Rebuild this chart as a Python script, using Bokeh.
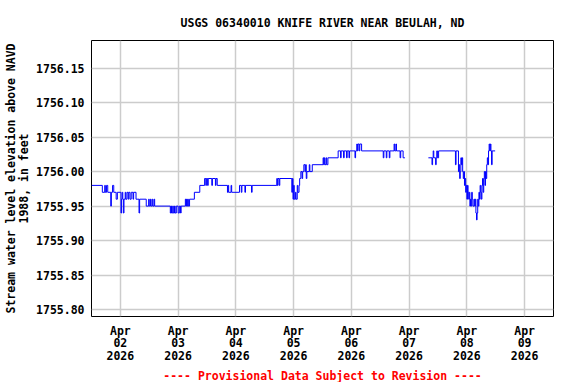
import datetime as dt
from bokeh.plotting import figure
from bokeh.models import (FixedTicker, DatetimeTickFormatter, NumeralTickFormatter,
                          Range1d, Title, ColumnDataSource)
from bokeh.embed import file_html
from bokeh.resources import INLINE

TITLE = "USGS 06340010 KNIFE RIVER NEAR BEULAH, ND"
Y_LABEL = "Stream water level elevation above NAVD\n1988, in feet"
FOOTER = "---- Provisional Data Subject to Revision ----"
Y_TICKS = [1755.80, 1755.85, 1755.90, 1755.95, 1756.00, 1756.05, 1756.10, 1756.15]
X_TICK_DAYS = ["2026-04-02", "2026-04-03", "2026-04-04", "2026-04-05",
               "2026-04-06", "2026-04-07", "2026-04-08", "2026-04-09"]
X_START = "2026-04-01 12:00"
X_END = "2026-04-09 12:00"
Y_MIN = 1755.79
Y_MAX = 1756.19

# Change points (time, gage height) -- value holds until the next time
SEGMENT_1 = [
    ("2026-04-01 12:00", 1755.98), ("2026-04-01 16:30", 1755.97), ("2026-04-01 17:30", 1755.98),
    ("2026-04-01 17:45", 1755.97), ("2026-04-01 18:15", 1755.98), ("2026-04-01 18:45", 1755.97),
    ("2026-04-01 20:00", 1755.95), ("2026-04-01 20:15", 1755.97), ("2026-04-01 20:45", 1755.98),
    ("2026-04-01 21:15", 1755.97), ("2026-04-01 22:15", 1755.96), ("2026-04-01 22:45", 1755.97),
    ("2026-04-02 00:15", 1755.94), ("2026-04-02 00:30", 1755.96), ("2026-04-02 00:45", 1755.97),
    ("2026-04-02 01:00", 1755.96), ("2026-04-02 01:15", 1755.94), ("2026-04-02 01:30", 1755.96),
    ("2026-04-02 02:00", 1755.97), ("2026-04-02 02:15", 1755.96), ("2026-04-02 02:45", 1755.97),
    ("2026-04-02 03:15", 1755.96), ("2026-04-02 03:30", 1755.97), ("2026-04-02 04:00", 1755.96),
    ("2026-04-02 04:30", 1755.97), ("2026-04-02 05:15", 1755.96), ("2026-04-02 05:30", 1755.97),
    ("2026-04-02 06:30", 1755.96), ("2026-04-02 07:45", 1755.94), ("2026-04-02 08:00", 1755.96),
    ("2026-04-02 10:45", 1755.95), ("2026-04-02 11:45", 1755.96), ("2026-04-02 12:00", 1755.95),
    ("2026-04-02 12:30", 1755.96), ("2026-04-02 12:45", 1755.95), ("2026-04-02 13:15", 1755.96),
    ("2026-04-02 13:30", 1755.95), ("2026-04-02 14:00", 1755.96), ("2026-04-02 14:15", 1755.95),
    ("2026-04-02 20:45", 1755.94), ("2026-04-02 21:00", 1755.95), ("2026-04-02 21:15", 1755.94),
    ("2026-04-02 21:45", 1755.95), ("2026-04-02 22:00", 1755.94), ("2026-04-02 22:30", 1755.95),
    ("2026-04-02 22:45", 1755.94), ("2026-04-02 23:15", 1755.95), ("2026-04-03 00:00", 1755.94),
    ("2026-04-03 00:30", 1755.95), ("2026-04-03 01:00", 1755.94), ("2026-04-03 01:15", 1755.95),
    ("2026-04-03 03:00", 1755.96), ("2026-04-03 03:15", 1755.95), ("2026-04-03 03:30", 1755.96),
    ("2026-04-03 03:45", 1755.95), ("2026-04-03 04:00", 1755.96), ("2026-04-03 04:15", 1755.95),
    ("2026-04-03 04:45", 1755.96), ("2026-04-03 06:45", 1755.97), ("2026-04-03 09:00", 1755.98),
    ("2026-04-03 11:00", 1755.99), ("2026-04-03 11:30", 1755.98), ("2026-04-03 11:45", 1755.99),
    ("2026-04-03 12:15", 1755.98), ("2026-04-03 12:30", 1755.99), ("2026-04-03 14:00", 1755.98),
    ("2026-04-03 14:15", 1755.99), ("2026-04-03 15:30", 1755.98), ("2026-04-03 15:45", 1755.99),
    ("2026-04-03 16:15", 1755.98), ("2026-04-03 20:30", 1755.97), ("2026-04-03 20:45", 1755.98),
    ("2026-04-03 21:00", 1755.97), ("2026-04-03 22:00", 1755.98), ("2026-04-03 22:15", 1755.97),
    ("2026-04-04 01:30", 1755.98), ("2026-04-04 02:15", 1755.97), ("2026-04-04 02:30", 1755.98),
    ("2026-04-04 03:45", 1755.97), ("2026-04-04 04:00", 1755.98), ("2026-04-04 06:30", 1755.97),
    ("2026-04-04 06:45", 1755.98), ("2026-04-04 17:00", 1755.99), ("2026-04-04 17:15", 1755.98),
    ("2026-04-04 17:30", 1755.99), ("2026-04-04 18:00", 1755.98), ("2026-04-04 18:15", 1755.99),
    ("2026-04-04 23:15", 1755.97), ("2026-04-04 23:30", 1755.99), ("2026-04-04 23:45", 1755.96),
    ("2026-04-05 00:00", 1755.98), ("2026-04-05 00:15", 1755.96), ("2026-04-05 00:45", 1755.97),
    ("2026-04-05 01:00", 1755.96), ("2026-04-05 01:30", 1755.98), ("2026-04-05 01:45", 1755.97),
    ("2026-04-05 02:15", 1755.98), ("2026-04-05 02:30", 1755.99), ("2026-04-05 03:00", 1756.00),
    ("2026-04-05 03:30", 1755.99), ("2026-04-05 03:45", 1756.00), ("2026-04-05 04:15", 1756.01),
    ("2026-04-05 04:45", 1756.00), ("2026-04-05 05:00", 1756.01), ("2026-04-05 05:15", 1755.99),
    ("2026-04-05 05:30", 1756.00), ("2026-04-05 06:30", 1756.01), ("2026-04-05 06:45", 1756.00),
    ("2026-04-05 07:45", 1756.01), ("2026-04-05 12:15", 1756.02), ("2026-04-05 12:30", 1756.01),
    ("2026-04-05 12:45", 1756.02), ("2026-04-05 13:00", 1756.01), ("2026-04-05 13:30", 1756.02),
    ("2026-04-05 13:45", 1756.01), ("2026-04-05 14:15", 1756.02), ("2026-04-05 18:30", 1756.03),
    ("2026-04-05 19:30", 1756.02), ("2026-04-05 19:45", 1756.03), ("2026-04-05 20:45", 1756.02),
    ("2026-04-05 21:00", 1756.03), ("2026-04-05 22:00", 1756.02), ("2026-04-05 22:15", 1756.03),
    ("2026-04-05 23:00", 1756.02), ("2026-04-05 23:15", 1756.03), ("2026-04-06 01:30", 1756.02),
    ("2026-04-06 01:45", 1756.03), ("2026-04-06 02:15", 1756.04), ("2026-04-06 02:30", 1756.03),
    ("2026-04-06 02:45", 1756.04), ("2026-04-06 03:15", 1756.03), ("2026-04-06 03:30", 1756.04),
    ("2026-04-06 04:15", 1756.03), ("2026-04-06 13:15", 1756.02), ("2026-04-06 13:30", 1756.03),
    ("2026-04-06 14:30", 1756.02), ("2026-04-06 14:45", 1756.03), ("2026-04-06 15:45", 1756.02),
    ("2026-04-06 16:00", 1756.03), ("2026-04-06 17:45", 1756.04), ("2026-04-06 18:00", 1756.03),
    ("2026-04-06 18:30", 1756.04), ("2026-04-06 18:45", 1756.03), ("2026-04-06 20:15", 1756.02),
    ("2026-04-06 20:30", 1756.03), ("2026-04-06 21:30", 1756.02), ("2026-04-06 22:15", 1756.02),
]

SEGMENT_2 = [
    ("2026-04-07 08:00", 1756.02), ("2026-04-07 09:30", 1756.01), ("2026-04-07 09:45", 1756.02),
    ("2026-04-07 10:00", 1756.03), ("2026-04-07 10:15", 1756.02), ("2026-04-07 11:00", 1756.01),
    ("2026-04-07 11:15", 1756.02), ("2026-04-07 11:30", 1756.03), ("2026-04-07 11:45", 1756.02),
    ("2026-04-07 12:15", 1756.03), ("2026-04-07 19:15", 1756.01), ("2026-04-07 19:30", 1756.03),
    ("2026-04-07 20:30", 1756.00), ("2026-04-07 20:45", 1756.01), ("2026-04-07 21:00", 1755.99),
    ("2026-04-07 21:15", 1756.00), ("2026-04-07 21:30", 1756.02), ("2026-04-07 21:45", 1756.01),
    ("2026-04-07 22:00", 1756.02), ("2026-04-07 22:15", 1756.00), ("2026-04-07 22:30", 1755.99),
    ("2026-04-07 22:45", 1756.00), ("2026-04-07 23:00", 1755.98), ("2026-04-07 23:15", 1755.99),
    ("2026-04-07 23:30", 1755.97), ("2026-04-07 23:45", 1755.98), ("2026-04-08 00:00", 1755.96),
    ("2026-04-08 00:15", 1755.98), ("2026-04-08 00:30", 1755.97), ("2026-04-08 00:45", 1755.96),
    ("2026-04-08 01:00", 1755.97), ("2026-04-08 01:15", 1755.95), ("2026-04-08 01:30", 1755.96),
    ("2026-04-08 01:45", 1755.95), ("2026-04-08 02:00", 1755.97), ("2026-04-08 02:15", 1755.96),
    ("2026-04-08 02:30", 1755.95), ("2026-04-08 03:00", 1755.96), ("2026-04-08 03:15", 1755.95),
    ("2026-04-08 03:30", 1755.96), ("2026-04-08 03:45", 1755.94), ("2026-04-08 04:00", 1755.93),
    ("2026-04-08 04:15", 1755.94), ("2026-04-08 04:30", 1755.96), ("2026-04-08 04:45", 1755.95),
    ("2026-04-08 05:00", 1755.97), ("2026-04-08 05:15", 1755.96), ("2026-04-08 05:30", 1755.98),
    ("2026-04-08 05:45", 1755.97), ("2026-04-08 06:00", 1755.96), ("2026-04-08 06:15", 1755.98),
    ("2026-04-08 06:30", 1755.99), ("2026-04-08 06:45", 1755.97), ("2026-04-08 07:00", 1755.99),
    ("2026-04-08 07:15", 1756.00), ("2026-04-08 07:30", 1755.98), ("2026-04-08 07:45", 1756.00),
    ("2026-04-08 08:00", 1755.99), ("2026-04-08 08:15", 1756.01), ("2026-04-08 08:30", 1756.02),
    ("2026-04-08 08:45", 1756.01), ("2026-04-08 09:00", 1756.03), ("2026-04-08 09:15", 1756.04),
    ("2026-04-08 09:30", 1756.03), ("2026-04-08 09:45", 1756.04), ("2026-04-08 10:00", 1756.03),
    ("2026-04-08 10:15", 1756.01), ("2026-04-08 10:30", 1756.03), ("2026-04-08 11:45", 1756.03),
]

FONT = "DejaVu Sans Mono"


def ts(s):
    return dt.datetime.strptime(s, "%Y-%m-%d %H:%M")


p = figure(frame_width=462, frame_height=276, x_axis_type="datetime",
           output_backend="svg", toolbar_location=None,
           x_range=Range1d(ts(X_START), ts(X_END)),
           y_range=Range1d(Y_MIN, Y_MAX),
           min_border_left=85, min_border_right=13, min_border_top=40, min_border_bottom=50)

p.title.text = TITLE
p.title.align = "center"
p.title.text_font = FONT
p.title.text_font_size = "11.5px"
p.title.text_font_style = "bold"
p.title.text_color = "black"
p.title.standoff = 22

for seg in (SEGMENT_1, SEGMENT_2):
    src = ColumnDataSource(dict(x=[ts(t) for t, _ in seg], y=[v for _, v in seg]))
    p.step("x", "y", source=src, mode="after", line_color="#0000ff", line_width=1)

p.xaxis.ticker = FixedTicker(ticks=[ts(d + " 00:00").replace(tzinfo=dt.timezone.utc).timestamp() * 1000
                                    for d in X_TICK_DAYS])
p.xaxis.formatter = DatetimeTickFormatter(days="%b\n%d\n%Y", months="%b\n%d\n%Y",
                                          hours="%b\n%d\n%Y", years="%b\n%d\n%Y")
p.yaxis.ticker = FixedTicker(ticks=Y_TICKS)
p.yaxis.formatter = NumeralTickFormatter(format="0.00")
p.yaxis.axis_label = Y_LABEL

for ax in (p.xaxis, p.yaxis):
    ax.axis_line_color = None
    ax.major_tick_line_color = None
    ax.minor_tick_line_color = None
    ax.major_tick_in = 0
    ax.major_tick_out = 0
    ax.minor_tick_in = 0
    ax.minor_tick_out = 0
    ax.major_label_text_font = FONT
    ax.major_label_text_font_size = "11.5px"
    ax.major_label_text_font_style = "bold"
    ax.major_label_text_color = "black"
    ax.major_label_text_line_height = 0.95
    ax.axis_label_text_font = FONT
    ax.axis_label_text_font_size = "11.5px"
    ax.axis_label_text_font_style = "bold"
    ax.axis_label_text_color = "black"
    ax.axis_label_text_line_height = 0.95

p.xaxis.major_label_text_line_height = 0.92
p.xaxis.major_label_standoff = 7
p.yaxis.major_label_standoff = 7
p.yaxis.axis_label_standoff = 2

p.xgrid.grid_line_color = "#cccccc"
p.ygrid.grid_line_color = "#cccccc"
p.xgrid.grid_line_width = 1.5
p.ygrid.grid_line_width = 1.5
p.outline_line_color = "black"
p.outline_line_width = 1

p.add_layout(Title(text=FOOTER, align="center", text_color="#ff0000", text_font=FONT,
                   text_font_size="11.5px", text_font_style="bold", standoff=0), "below")

open("out.html", "w").write(file_html(p, INLINE))
